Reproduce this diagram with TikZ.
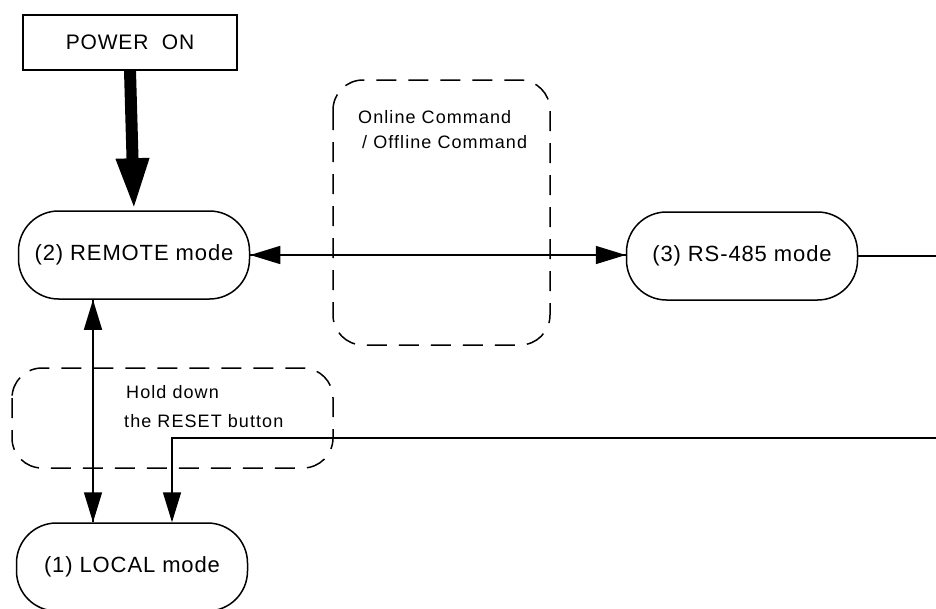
\documentclass[tikz,border=0pt]{standalone}
\usepackage{fontspec}
\setmainfont{Liberation Sans}
\newfontfamily\modefont[LetterSpace=4]{Liberation Sans}
\newfontfamily\notefont[LetterSpace=6]{Liberation Sans}
\usetikzlibrary{arrows.meta}

\tikzset{
  modebox/.style={draw, line width=1.5pt, rounded corners=40pt,
    minimum width=231pt, minimum height=88pt, inner sep=0pt,
    font=\modefont\fontsize{22}{24}\selectfont},
  startbox/.style={draw, line width=1.5pt, minimum width=214pt,
    minimum height=55pt, inner sep=0pt, font=\modefont\fontsize{21}{24}\selectfont},
  dashbox/.style={draw, line width=1.5pt, dash pattern=on 20pt off 12pt,
    rounded corners=30pt},
  note/.style={anchor=base west, inner sep=0pt, font=\notefont\fontsize{18}{20}\selectfont},
  link/.style={line width=1.5pt},
  tip/.style={-{Triangle[length=30pt,width=18pt]}},
}

\begin{document}
\begin{tikzpicture}[x=1pt, y=-1pt]
  \useasboundingbox (0,0) rectangle (936,608);
  \clip (0,0) rectangle (936,608);

  % grouping frames for the transition conditions
  \draw[dashbox] (333,80) rectangle (550,345);
  \draw[dashbox] (12,368) rectangle (333,468);

  % states
  \node[startbox] (power)  at (130,42.5) {POWER\ \ ON};
  \node[modebox]  (remote) at (134,255)  {(2) REMOTE mode};
  \node[modebox]  (rs485)  at (742,256)  {(3) RS-485 mode};
  \node[modebox]  (local)  at (132,567)  {(1) LOCAL mode};

  % condition texts
  \node[note] (cmd1) at (358,123) {Online Command};
  \node[note] (cmd2) at (362,148) {/ Offline Command};
  \node[note] (rst1) at (126,398) {Hold down};
  \node[note] (rst2) at (124,427) {the RESET button};

  % helper points for the vertical and return connectors
  \coordinate (vx) at (93,0);
  \coordinate (rx) at (172,0);
  \coordinate (turnA) at (960,256);
  \coordinate (turnB) at (960,438);
  \coordinate (turnC) at (172,438);

  % power-on transition
  \draw[line width=12pt, -{Triangle[length=52pt,width=30pt]}]
    (power.south) -- (remote.north);

  % REMOTE <-> RS-485
  \draw[link, tip] (remote.east |- 0,255) -- (rs485.west |- 0,255);
  \draw[link, tip] (rs485.west |- 0,255) -- (remote.east |- 0,255);

  % REMOTE <-> LOCAL
  \draw[link, tip] (remote.south -| vx) -- (local.north -| vx);
  \draw[link, tip] (local.north -| vx) -- (remote.south -| vx);

  % RS-485 -> LOCAL
  \draw[link, tip] (rs485.east) -- (turnA) -- (turnB) -- (turnC)
    -- (local.north -| rx);
\end{tikzpicture}
\end{document}
